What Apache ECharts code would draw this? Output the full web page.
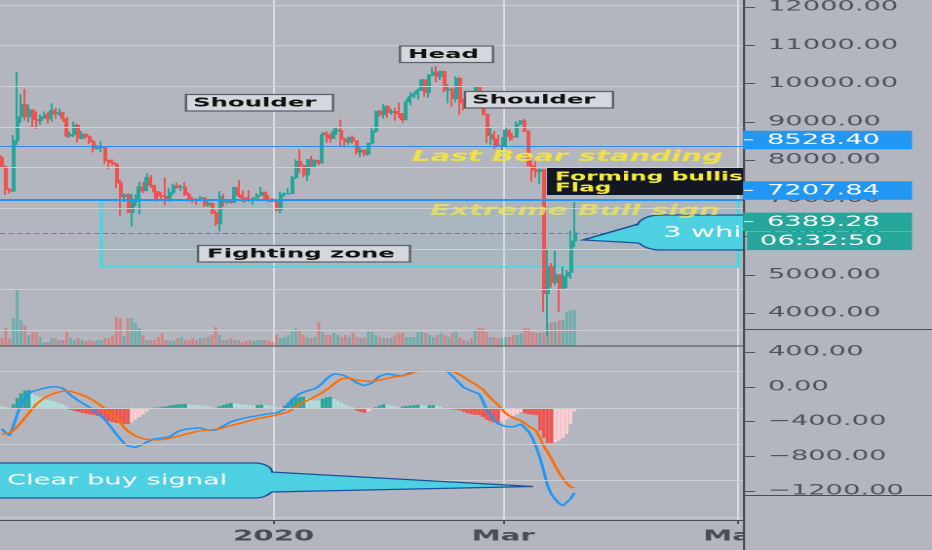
<!DOCTYPE html>
<html><head><meta charset="utf-8">
<script src="https://cdn.jsdelivr.net/npm/echarts@6/dist/echarts.min.js"></script>
<style>
html,body{margin:0;padding:0;background:#b3b6be;overflow:hidden;}
#wrap{width:932px;height:550px;overflow:hidden;position:relative;}
#c{width:478px;height:550px;transform:scaleX(1.94979);transform-origin:0 0;}
</style></head><body><div id="wrap"><div id="c"></div></div>
<script>
// ---------------- data (BTC/USD daily) ----------------
const firstDay = '2019-10-22';
// [open, close, low, high]
const candles = [
[8240,8020,7990,8300],[8020,7460,7320,8050],[7460,7420,7360,7500],[7420,8660,7400,8800],[8660,9250,8550,10350],
[9250,9550,9100,9800],[9550,9250,9150,9940],[9250,9420,9110,9550],[9420,9180,8970,9430],[9180,9150,8950,9380],
[9150,9250,9050,9300],[9250,9300,9200,9380],[9300,9200,9080,9370],[9200,9400,9130,9580],[9400,9320,9200,9470],
[9320,9350,9260,9450],[9350,9200,9120,9370],[9200,8780,8730,9240],[8780,8810,8750,8880],[8810,9040,8750,9130],
[9040,8720,8620,9080],[8720,8820,8690,8900],[8820,8760,8700,8840],[8760,8640,8580,8790],[8640,8470,8370,8680],
[8470,8500,8440,8550],[8490,8510,8380,8650],[8510,8170,8090,8520],[8170,8120,7960,8200],[8120,8080,8050,8200],
[8080,7620,7500,8120],[7620,7280,6800,7700],[7280,7330,7150,7360],[7330,6900,6880,7360],[6900,7150,6550,7350],
[7150,7160,7050,7340],[7160,7520,6850,7650],[7520,7430,7370,7650],[7430,7750,7420,7860],[7750,7560,7500,7820],
[7560,7400,7230,7560],[7400,7300,7160,7420],[7310,7290,7230,7400],[7290,7200,7080,7750],[7200,7390,7160,7490],
[7390,7550,7320,7600],[7550,7510,7480,7630],[7510,7520,7420,7580],[7520,7340,7300,7640],[7340,7220,7170,7390],
[7220,7200,7130,7270],[7200,7190,7080,7240],[7190,7250,7180,7300],[7250,7070,7030,7270],[7070,7110,7030,7190],
[7110,6880,6850,7150],[6880,6620,6560,6940],[6620,7280,6430,7420],[7280,7150,7040,7350],[7150,7190,7100,7220],
[7190,7140,7110,7200],[7140,7510,7130,7520],[7510,7320,7260,7690],[7320,7250,7160,7430],[7250,7200,7130,7270],
[7200,7190,7150,7440],[7190,7250,7090,7270],[7250,7310,7250,7370],[7310,7390,7290,7520],[7390,7220,7190,7410],
[7220,7170,7150,7320],[7190,7170,7150,7250],[7170,6950,6920,7200],[6950,7340,6870,7400],[7340,7350,7280,7390],
[7350,7360,7340,7500],[7360,7760,7350,7790],[7760,8150,7720,8200],[8150,8050,7870,8450],[8050,7820,7760,8070],
[7820,8190,7670,8190],[8190,8030,8000,8290],[8030,8180,7990,8190],[8180,8110,8060,8190],[8110,8810,8100,8880],
[8840,8800,8610,8900],[8800,8720,8620,8840],[8720,8900,8700,9000],[8900,8910,8800,8990],[8910,8700,8500,9180],
[8700,8630,8520,8730],[8630,8740,8560,8760],[8740,8660,8590,8790],[8660,8380,8320,8670],[8380,8430,8250,8520],
[8430,8330,8270,8440],[8330,8600,8290,8600],[8600,8900,8570,8970],[8900,9380,8860,9400],[9380,9300,9250,9420],
[9300,9500,9200,9570],[9500,9350,9220,9530],[9350,9380,9300,9450],[9380,9330,9150,9470],[9330,9290,9220,9600],
[9290,9180,9100,9340],[9180,9610,9160,9700],[9610,9750,9530,9850],[9750,9800,9710,9870],[9800,9900,9670,9950],
[9900,10160,9880,10160],[10160,9850,9740,10170],[9850,10270,9720,10300],[10270,10350,10250,10470],[10350,10240,10100,10500],
[10240,10360,10150,10390],[10360,9900,9860,10380],[9900,9930,9580,10050],[9930,9700,9500,9970],[9700,10190,9600,10240],
[10190,9600,9300,10230],[9610,9590,9400,9700],[9590,9690,9580,9760],[9690,9670,9590,9700],[9670,9970,9660,9990],
[9970,9660,9520,10000],[9660,9310,9280,9670],[9310,8790,8600,9330],[8790,8810,8560,8970],[8810,8700,8460,8900],
[8700,8540,8520,8800],[8520,8540,8420,8750],[8540,8920,8500,8970],[8920,8760,8660,8920],[8760,8750,8680,8850],
[8750,9070,8750,9140],[9070,9150,9030,9170],[9150,8900,8870,9200],[8900,8040,8030,8900],[8040,7940,7650,8170],
[7940,7900,7750,8150],[7900,7950,7600,7980],[7950,4900,4450,7970],[4900,5560,3850,6000],[5560,5170,5050,5650],
[5170,5360,5100,5950],[5360,5030,4450,5370],[5030,5330,4990,5560],[5330,5420,5030,5480],[5420,6190,5260,6450],
[6190,6389.28,6040,7150]
];
const volumes = [
8,18,8,28,56,26,21,11,14,14, 9,4,4,8,8,6,6,14,8,6, 8,6,5,6,5,6,6,8,8,11,
29,28,10,28,28,23,18,11,6,6, 6,9,13,6,6,5,8,9,6,6, 8,6,8,8,9,11,19,11,6,6,
8,6,6,4,5,6,5,6,6,6, 5,4,11,8,9,11,14,18,16,11, 9,8,9,24,14,11,11,13,11,9,
11,9,13,9,8,9,14,14,11,9, 8,8,8,11,13,13,9,9,9,14, 14,13,11,9,11,13,11,9,13,14,
9,6,5,8,16,18,18,14,9,9, 8,8,9,9,11,11,13,18,18,14, 13,13,14,22,24,24,26,26,34,36,
36];
const macdLine = [
-231,-275,-305,-200,-70,40,110,155,180,195, 205,215,225,231,234,232,215,180,140,110,
80,55,30,5,-25,-60,-88,-130,-180,-235, -290,-340,-390,-418,-438,-435,-415,-400,-375,-355,
-341,-336,-333,-330,-315,-290,-260,-242,-235,-230, -226,-222,-220,-230,-248,-262,-245,-222,-200,-175,
-152,-138,-128,-118,-108,-100,-93,-86,-78,-70, -64,-60,-57,-50,-15,40,90,125,155,175,
187,200,212,235,275,315,350,374,372,365, 355,330,300,275,255,244,250,275,315,350,
365,374,368,360,352,352,370,390,408,422, 435,445,452,457,461,460,430,390,352,310,
270,225,205,185,170,156,80,-20,-70,-130, -175,-195,-205,-208,-209,-195,-178,-195,-260,-330,
-430,-550,-700,-860,-950,-1005,-1050,-1076,-1068,-1000, -935];
const signalLine = [
-286,-283,-275,-250,-210,-160,-110,-60,-10,40, 75,105,130,150,165,177,184,187,183,172,
158,142,125,105,80,52,25,-10,-45,-80, -110,-160,-215,-255,-285,-310,-328,-340,-347,-350,
-352,-352,-350,-343,-333,-322,-312,-303,-292,-280, -268,-259,-253,-248,-244,-240,-236,-231,-220,-206,
-193,-183,-176,-165,-153,-140,-128,-118,-109,-102, -96,-88,-78,-68,-58,-45,-20,10,40,62,
77,100,122,145,168,198,228,262,295,320, 330,325,315,305,298,295,290,290,298,305,
315,325,335,343,350,352,360,375,392,408, 418,428,434,438,440,440,432,415,398,388,
365,338,312,285,262,245,205,155,110,70, 35,-15,-60,-88,-110,-125,-140,-170,-200,-225,
-253,-330,-420,-490,-560,-640,-715,-775,-830,-870, -880];
const histogram = [
15,8,2,40,110,160,190,198,160,135, 115,100,88,78,68,55,38,15,-22,-35,
-45,-55,-62,-70,-78,-88,-99,-130,-145,-158, -166,-172,-176,-178,-160,-130,-100,-70,-40,-10,
3,5,12,18,25,32,38,42,44,38, 33,30,27,24,18,10,-6,18,32,45,
55,50,45,40,35,30,28,32,35,30, 25,18,12,8,25,55,85,110,118,121,
105,90,80,78,100,115,121,100,80,55, 35,18,5,-30,-45,-55,-40,-15,10,28,
40,35,25,15,10,15,20,25,30,33, 28,25,28,30,26,15,-5,-12,-18,-22,
-28,-45,-60,-70,-75,-78,-100,-130,-150,-160, -165,-150,-130,-110,-90,-70,-45,-60,-70,-77,
-80,-250,-330,-385,-388,-380,-360,-330,-286,-176, -40];
const priceTicks = [4000, 5000, 6000, 7000, 8000, 9000, 10000, 11000, 12000];
const macdTicks = [-1200, -800, -400, 0, 400];
const timeLabels = {'2020-01-01': '2020', '2020-03-01': 'Mar', '2020-05-01': 'May'};
const levelHigh = 8528.40, levelLow = 7207.84, lastPrice = 6389.28, timer = '06:32:50';
const zoneStart = '2019-11-17', zoneEnd = '2020-05-02', zoneTop = 7195, zoneBottom = 5550;

// ---------------- layout ----------------
const S = 932 / 478;               // horizontal stretch of the picture
const X = v => v / S;
const BAND = 3.826, N = 195;
const BG = '#b3b6be', UP = '#26a69a', DOWN = '#ef5350', GRIDC = '#cdcfd4';
const cats = [];
const t0 = Date.parse(firstDay + 'T00:00:00Z');
for (let i = 0; i < N; i++) cats.push(new Date(t0 + i * 86400000).toISOString().slice(0, 10));
const isMark = (i, v) => v in timeLabels;
const up = candles.map(c => c[1] >= c[0]);
const histColor = i => {
  const h = histogram[i], p = i > 0 ? histogram[i - 1] : h;
  if (h >= 0) return p < h ? '#26a69a' : '#b2dfdb';
  return p < h ? '#ffcdd2' : '#ef5350';
};
const gridLines = ticks => ticks.map(v => ({yAxis: v, lineStyle: {color: GRIDC, width: 1, type: 'solid'}}));

const chart = echarts.init(document.getElementById('c'), null, {renderer: 'canvas', devicePixelRatio: 2});
const gl = X(-1.913), gw = X(N * BAND);
const labelAxis = (grid, ticks, step, fmt) => ({type: 'value', gridIndex: grid, position: 'right', z: 30,
  min: ticks[0], max: ticks[ticks.length - 1], interval: step,
  axisLine: {show: false, onZero: false}, splitLine: {show: false},
  axisTick: {show: true, length: X(11), lineStyle: {color: '#50535e'}},
  axisLabel: {margin: X(24), color: '#50535e', fontFamily: 'DejaVu Sans', fontSize: 14, formatter: fmt}});
chart.setOption({
  animation: false,
  backgroundColor: BG,
  grid: [
    {left: gl, width: gw, top: 5, height: 325},
    {left: gl, width: gw, top: 250, height: 96},
    {left: gl, width: gw, top: 371.5, height: 145.5},
    {left: X(2.0), width: X((N - 1) * BAND), top: 0, height: 520},
    {left: 0, width: X(744), top: 5, height: 308},
    {left: 0, width: X(744), top: 352, height: 139}
  ],
  xAxis: [
    {type: 'category', gridIndex: 0, data: cats, show: false},
    {type: 'category', gridIndex: 1, data: cats, show: false},
    {type: 'category', gridIndex: 2, data: cats, show: false},
    {type: 'category', gridIndex: 3, data: cats, boundaryGap: false,
      axisLine: {show: false},
      axisTick: {show: true, interval: isMark, length: 4, lineStyle: {color: '#4a4d57', width: 1}},
      axisLabel: {interval: isMark, formatter: v => timeLabels[v] || '', margin: 9, color: '#4a4d57',
        fontFamily: 'DejaVu Sans', fontWeight: 'bold', fontSize: 15},
      splitLine: {show: true, interval: isMark, lineStyle: {color: '#dcdee2', width: 1}}},
    {type: 'category', gridIndex: 4, data: [''], show: false},
    {type: 'category', gridIndex: 5, data: [''], show: false}
  ],
  yAxis: [
    {type: 'value', gridIndex: 0, position: 'right', min: priceTicks[0], max: priceTicks[priceTicks.length - 1], show: false},
    {type: 'value', gridIndex: 1, position: 'right', min: 0, max: 96, show: false},
    {type: 'value', gridIndex: 2, position: 'right', min: macdTicks[0], max: macdTicks[macdTicks.length - 1], show: false},
    {type: 'value', gridIndex: 3, position: 'right', min: 0, max: 1, show: false},
    labelAxis(4, priceTicks, 1000, v => v.toFixed(2)),
    labelAxis(5, macdTicks, 400, v => v.toFixed(2).replace('-', '\u2212'))
  ],
  series: [
    {type: 'line', xAxisIndex: 0, yAxisIndex: 0, data: [], z: 0, silent: true,
      markLine: {symbol: 'none', silent: true, animation: false, label: {show: false}, data: gridLines(priceTicks)}},
    {type: 'line', xAxisIndex: 2, yAxisIndex: 2, data: [], z: 0, silent: true,
      markLine: {symbol: 'none', silent: true, animation: false, label: {show: false}, data: gridLines(macdTicks)}},
    {type: 'candlestick', xAxisIndex: 0, yAxisIndex: 0, data: candles, barWidth: '76%', clip: false,
      itemStyle: {color: UP, color0: DOWN, borderColor: UP, borderColor0: DOWN, borderWidth: 1},
      markLine: {symbol: 'none', silent: true, animation: false, label: {show: false},
        data: [
          {yAxis: levelHigh, lineStyle: {color: '#2b8fea', width: 1, type: 'solid'}},
          {yAxis: levelLow, lineStyle: {color: '#2196f3', width: 2, type: 'solid'}},
          {yAxis: lastPrice, lineStyle: {color: '#26a69a', width: 1, type: [2.6, 1.8]}}
        ]},
      markArea: {silent: true, itemStyle: {color: 'rgba(0,188,212,0.05)', borderColor: '#3fdbe6', borderWidth: 1.5},
        data: [[{xAxis: zoneStart, yAxis: zoneTop}, {xAxis: zoneEnd, yAxis: zoneBottom}]]}},
    {type: 'bar', xAxisIndex: 1, yAxisIndex: 1, data: volumes, barWidth: '76%',
      itemStyle: {color: p => up[p.dataIndex] ? 'rgba(38,166,154,0.5)' : 'rgba(239,83,80,0.5)'}},
    {type: 'bar', xAxisIndex: 2, yAxisIndex: 2, data: histogram, barWidth: '92%',
      itemStyle: {color: p => histColor(p.dataIndex)}},
    {type: 'line', xAxisIndex: 2, yAxisIndex: 2, data: macdLine, showSymbol: false, symbol: 'none',
      lineStyle: {color: '#2196f3', width: 1.5}, z: 3},
    {type: 'line', xAxisIndex: 2, yAxisIndex: 2, data: signalLine, showSymbol: false, symbol: 'none',
      lineStyle: {color: '#ff6d00', width: 1.5}, z: 3}
  ]
});

// ---------------- drawings / annotations ----------------
const g = [];
const line = (x1, y1, x2, y2, color, w, z) => g.push({type: 'line', z, silent: true,
  shape: {x1: X(x1), y1, x2: X(x2), y2}, style: {stroke: color, lineWidth: w}});
const text = (x, y, str, font, fill, z) => g.push({type: 'text', z, silent: true, x: X(x), y,
  style: {text: str, font, fill, align: 'left', verticalAlign: 'middle'}});
const box = (x, y, w, h, fill, stroke, z, r) => g.push({type: 'rect', z, silent: true,
  shape: {x: X(x), y, width: X(w), height: h, r: r || 0},
  style: {fill, stroke: stroke || null, lineWidth: stroke ? 1.2 : 0}});
const poly = (pts, fill, z) => g.push({type: 'polygon', z, silent: true,
  shape: {points: pts.map(p => [X(p[0]), p[1]])}, style: {fill}});
const pline = (pts, stroke, z) => g.push({type: 'polyline', z, silent: true,
  shape: {points: pts.map(p => [X(p[0]), p[1]])}, style: {stroke, lineWidth: 1.3, fill: null}});

const BOXF = '#d4d7dd', BOXS = '#5c5f6a', LBL = 'bold 12.5px "DejaVu Sans"';
box(400, 46, 93, 16.5, BOXF, BOXS, 10); text(408, 54.5, 'Head', LBL, '#111', 11);
box(186, 94.5, 147, 16.5, BOXF, BOXS, 10); text(193, 103, 'Shoulder', LBL, '#111', 11);
box(465, 91.5, 148, 16.5, BOXF, BOXS, 10); text(472, 100, 'Shoulder', LBL, '#111', 11);
box(198, 245.5, 212, 16.5, BOXF, BOXS, 10); text(207, 254, 'Fighting zone', LBL, '#111', 11);
box(547, 168, 210, 27, '#131722', null, 10);
text(555, 177.5, 'Forming bullish', 'bold 12px "DejaVu Sans"', '#f5e940', 11);
text(555, 188.5, 'Flag', 'bold 12px "DejaVu Sans"', '#f5e940', 11);
text(412, 157, 'Last Bear standing', 'italic bold 15px "DejaVu Sans"', '#efe14a', 11);
text(430, 211, 'Extreme Bull sign', 'italic bold 15px "DejaVu Sans"', 'rgba(242,232,80,0.72)', 11);
// callout: 3 white soldiers
const CY = '#4dd0e1', CB = '#1b4f9e';
box(637, 215, 140, 35, CY, CB, 10, 12);
poly([[643, 224], [583, 240], [643, 243]], CY, 11);
pline([[638.5, 224], [583, 240], [638.5, 243]], CB, 12);
text(663, 233, '3 white soldiers', '15px "DejaVu Sans"', '#ffffff', 13);
// callout: Clear buy signal
box(-30, 463, 302, 35, CY, CB, 10, 9);
poly([[267, 472], [533, 486.5], [267, 492]], CY, 11);
pline([[271, 472], [533, 486.5], [271, 492]], CB, 12);
text(7, 481, 'Clear buy signal', '14px "DejaVu Sans"', '#ffffff', 13);
// pane separators
line(0, 346, 744, 346, '#4a4d57', 1, 15);
line(0, 520.5, 744, 520.5, '#4a4d57', 1, 15);
// right price-scale panel
box(744, 0, 190, 550, BG, null, 20);
line(744, 0, 744, 550, '#3f424b', 1, 25);
line(744, 329.5, 932, 329.5, '#4a4d57', 1, 25);
line(744, 495.5, 932, 495.5, '#4a4d57', 1, 25);
const yl = v => chart.convertToPixel({yAxisIndex: 4}, v);
const tag = (v, color, str, dy, x0) => {
  const y = yl(v) + dy;
  box(x0, y - 9, 912 - x0, 18.5, color, null, 40);
  if (dy === 0) line(744, y, 753, y, '#ffffff', 1, 41);
  text(x0 === 743 ? 767 : 760, y + 0.5, str, '14px "DejaVu Sans"', '#ffffff', 42);
};
tag(levelHigh, '#2196f3', levelHigh.toFixed(2), 0, 743);
tag(levelLow, '#2196f3', levelLow.toFixed(2), 0, 743);
tag(lastPrice, '#26a69a', lastPrice.toFixed(2), 0, 743);
tag(lastPrice, '#26a69a', timer, 19, 747);
chart.setOption({graphic: g});
</script></body></html>
